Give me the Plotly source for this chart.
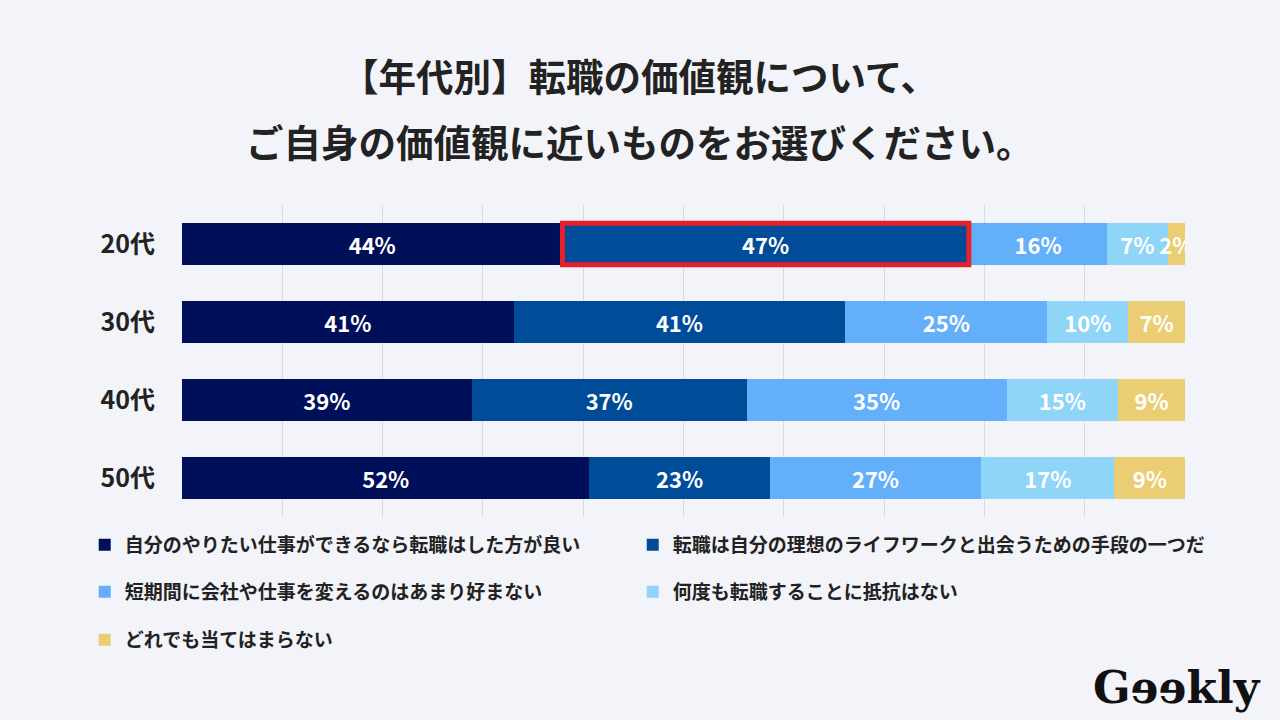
import plotly.graph_objects as go

# 年代別の回答（複数回答のため合計は100%を超える）
ages = ["20代", "30代", "40代", "50代"]
answers = [
    "自分のやりたい仕事ができるなら転職はした方が良い",
    "転職は自分の理想のライフワークと出会うための手段の一つだ",
    "短期間に会社や仕事を変えるのはあまり好まない",
    "何度も転職することに抵抗はない",
    "どれでも当てはまらない",
]
want_job = [44, 41, 39, 52]
life_work = [47, 41, 37, 23]
dislike_short = [16, 25, 35, 27]
no_resist = [7, 10, 15, 17]
none_apply = [2, 7, 9, 9]

series = [want_job, life_work, dislike_short, no_resist, none_apply]
colors = ["#000F5A", "#004C99", "#64AFFA", "#8FD5F8", "#EBCD73"]

BG = "#F3F4F9"
DARK = "#222222"
FONT = "Noto Sans CJK JP"

# one legend per entry so the two-column grid can be placed exactly
leg_names = ["legend", "legend2", "legend3", "legend4", "legend5"]
leg_x = [-0.097, 0.4494, -0.097, 0.4494, -0.097]
leg_y = [-0.0897, -0.0897, -0.2404, -0.2404, -0.394]

fig = go.Figure()
for name, vals, col, lg in zip(answers, series, colors, leg_names):
    fig.add_trace(go.Bar(
        y=ages,
        x=vals,
        name=name,
        orientation="h",
        marker=dict(color=col, line=dict(width=0)),
        width=0.53,
        text=[f"{v}%" for v in vals],
        textposition="inside",
        insidetextanchor="middle",
        textangle=0,
        constraintext="none",
        textfont=dict(family=FONT, size=22, color="white", weight="bold"),
        legend=lg,
    ))

# highlight box around 20代 / 2nd answer
total_20 = sum(s[0] for s in series)
x0 = 100 * want_job[0] / total_20
x1 = 100 * (want_job[0] + life_work[0]) / total_20
fig.add_shape(type="rect", xref="x", yref="y", x0=x0, x1=x1, y0=-0.265, y1=0.265,
              line=dict(color="#E8202A", width=5), fillcolor="rgba(0,0,0,0)")

leg_layout = {}
for lg, lx, ly in zip(leg_names, leg_x, leg_y):
    leg_layout[lg] = dict(
        orientation="h", xanchor="left", yanchor="middle", x=lx, y=ly,
        font=dict(family=FONT, size=19, color=DARK, weight="bold"),
        bgcolor="rgba(0,0,0,0)",
        itemclick=False, itemdoubleclick=False,
    )

fig.update_layout(
    width=1280, height=720,
    paper_bgcolor=BG, plot_bgcolor=BG,
    barmode="stack", barnorm="percent",
    margin=dict(l=182, r=95, t=205, b=203),
    font=dict(family=FONT, color=DARK),
    uniformtext=dict(mode="show", minsize=22),
    xaxis=dict(range=[0, 100], dtick=10, showticklabels=False, showgrid=True,
               gridcolor="#D9DAE0", gridwidth=1, zeroline=False, fixedrange=True),
    yaxis=dict(autorange="reversed", showgrid=False, zeroline=False, ticks="",
               ticklabelstandoff=26,
               tickfont=dict(family=FONT, size=25, color=DARK, weight="bold")),
    annotations=[
        dict(text="【年代別】転職の価値観について、", xref="paper", yref="paper",
             x=0.4566, y=1.4167, showarrow=False, xanchor="center", yanchor="middle",
             font=dict(family=FONT, size=37.5, color=DARK, weight="bold")),
        dict(text="ご自身の価値観に近いものをお選びください。", xref="paper", yref="paper",
             x=0.4566, y=1.2083, showarrow=False, xanchor="center", yanchor="middle",
             font=dict(family=FONT, size=37.5, color=DARK, weight="bold")),
        dict(text="Gɘɘkly", xref="paper", yref="paper", x=0.992, y=-0.545,
             showarrow=False, xanchor="center", yanchor="middle",
             font=dict(family="DejaVu Serif, Liberation Serif", size=44, color="#111111",
                       weight="bold")),
    ],
    showlegend=True,
    **leg_layout,
)

fig.write_html("out.html", config={"displayModeBar": False},
               post_script="document.body.style.margin='0';")
